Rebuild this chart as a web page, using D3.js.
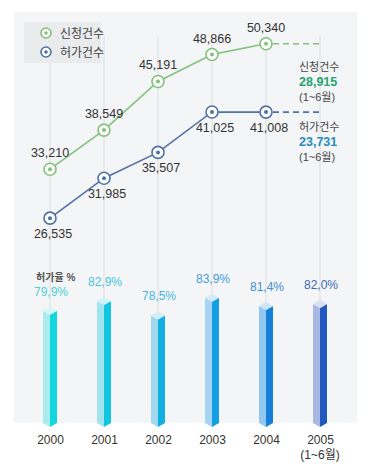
<!DOCTYPE html>
<html>
<head>
<meta charset="utf-8">
<script src="https://cdn.jsdelivr.net/npm/d3@7"></script>
<style>
    body { margin: 0; background: #fff; }
    svg text { font-family: "Liberation Sans", "Noto Sans CJK KR", sans-serif; }
</style>
</head>
<body>
<div id="chart"></div>
<script>
// data
const years = ["2000", "2001", "2002", "2003", "2004", "2005"];
const applications = [33210, 38549, 45191, 48866, 50340];
const permits = [26535, 31985, 35507, 41025, 41008];
const rates = [79.9, 82.9, 78.5, 83.9, 81.4, 82.0];
const partialApplications = 28915;
const partialPermits = 23731;
const seriesNames = ["신청건수", "허가건수"];
const partialNote = "(1~6월)";

const barColors = [
    {left: "#a9ecee", right: "#12d6dc", top: "#d4f6f7", label: "#4ccfd9"},
    {left: "#a0e4f0", right: "#12c6e0", top: "#d0f2f8", label: "#45c5e0"},
    {left: "#a2d8f0", right: "#12b0e0", top: "#d2ecf8", label: "#44b6e0"},
    {left: "#a6d4f4", right: "#12a0e2", top: "#d4eafa", label: "#3f9ed8"},
    {left: "#92c8f0", right: "#1680d8", top: "#cce4f8", label: "#3f8ed0"},
    {left: "#a8b8e2", right: "#2258bf", top: "#d6def2", label: "#3d68b8"}
];

class comboChart {
    constructor(parentElement) {
        this.parentElement = parentElement;
        this.width = 371;
        this.height = 469;
        this.green = "#82c27c";
        this.blue = "#4f72a5";
        this.initVis();
    }

    initVis() {
        let vis = this;

        vis.svg = d3.select("#" + vis.parentElement).append("svg")
            .attr("width", vis.width)
            .attr("height", vis.height);

        // background panel
        vis.svg.append("rect")
            .attr("x", 14).attr("y", 12)
            .attr("width", 343).attr("height", 411)
            .attr("fill", "#f4f5f6");

        vis.x = d3.scalePoint().domain(years).range([50, 320]);
        vis.y = d3.scaleLinear().domain([20000, 55000]).range([266, 9.6]);
        vis.yRate = d3.scaleLinear().domain([70, 90]).range([339, 274]);

        // vertical guide lines
        vis.svg.selectAll(".grid")
            .data(years)
            .enter().append("line")
            .attr("class", "grid")
            .attr("x1", d => vis.x(d)).attr("x2", d => vis.x(d))
            .attr("y1", 36).attr("y2", 420)
            .attr("stroke", "#dcdddf")
            .attr("stroke-width", 1);

        vis.drawBars();
        vis.drawLines();
        vis.drawLegend();
        vis.drawAxis();
    }

    drawBars() {
        let vis = this;
        let w = 7, d = 4, bottom = 427;
        let bars = vis.svg.selectAll(".bar")
            .data(rates)
            .enter().append("g")
            .attr("class", "bar");

        bars.append("polygon")
            .attr("fill", (r, i) => barColors[i].left)
            .attr("points", (r, i) => {
                let cx = vis.x(years[i]), t = vis.yRate(r);
                return [[cx - w, t + d], [cx, t + 2 * d], [cx, bottom], [cx - w, bottom - d]].join(" ");
            });
        bars.append("polygon")
            .attr("fill", (r, i) => barColors[i].right)
            .attr("points", (r, i) => {
                let cx = vis.x(years[i]), t = vis.yRate(r);
                return [[cx, t + 2 * d], [cx + w, t + d], [cx + w, bottom - d], [cx, bottom]].join(" ");
            });
        bars.append("polygon")
            .attr("fill", (r, i) => barColors[i].top)
            .attr("points", (r, i) => {
                let cx = vis.x(years[i]), t = vis.yRate(r);
                return [[cx - w, t + d], [cx, t], [cx + w, t + d], [cx, t + 2 * d]].join(" ");
            });

        // the source writes the decimal mark as a comma
        bars.append("text")
            .attr("x", (r, i) => vis.x(years[i]) + 1)
            .attr("y", r => vis.yRate(r) - 11)
            .attr("text-anchor", "middle")
            .attr("font-size", 12)
            .attr("fill", (r, i) => barColors[i].label)
            .text(r => r.toFixed(1).replace(".", ",") + "%");

        vis.svg.append("text")
            .attr("x", 36).attr("y", 281)
            .attr("font-size", 10)
            .attr("font-weight", "bold")
            .attr("fill", "#555")
            .text("허가율 %");
    }

    drawSeries(values, partial, color, above) {
        let vis = this;
        let pts = values.map((v, i) => ({year: years[i], value: v}));
        let last = pts[pts.length - 1];

        let line = d3.line().x(d => vis.x(d.year)).y(d => vis.y(d.value));
        vis.svg.append("path")
            .datum(pts)
            .attr("fill", "none")
            .attr("stroke", color)
            .attr("stroke-width", 1.6)
            .attr("d", line);

        // dashed extension to the partial year
        vis.svg.append("line")
            .attr("x1", vis.x(last.year) + 7).attr("x2", vis.x(years[5]))
            .attr("y1", vis.y(last.value)).attr("y2", vis.y(last.value))
            .attr("stroke", color)
            .attr("stroke-width", 1.6)
            .attr("stroke-dasharray", "6,4");

        let g = vis.svg.selectAll(null).data(pts).enter().append("g")
            .attr("transform", d => `translate(${vis.x(d.year)},${vis.y(d.value)})`);
        g.append("circle").attr("r", 6).attr("fill", "#fff").attr("stroke", color).attr("stroke-width", 1.6);
        g.append("circle").attr("r", 2).attr("fill", color);
        g.append("text")
            .attr("x", above ? 0 : 3)
            .attr("y", above ? -12 : 20)
            .attr("text-anchor", "middle")
            .attr("font-size", 12.5)
            .attr("fill", "#333")
            .text(d => d3.format(",")(d.value));
    }

    drawLines() {
        let vis = this;
        vis.drawSeries(applications, partialApplications, vis.green, true);
        vis.drawSeries(permits, partialPermits, vis.blue, false);

        // partial-year notes on the right
        let notes = [
            {name: seriesNames[0], value: partialApplications, color: "#25a36e", y: 67},
            {name: seriesNames[1], value: partialPermits, color: "#2a8bb8", y: 127}
        ];
        notes.forEach(n => {
            let t = vis.svg.append("text")
                .attr("x", 299)
                .attr("font-size", 11)
                .attr("fill", "#444");
            t.append("tspan").attr("x", 299).attr("y", n.y + 4).text(n.name);
            t.append("tspan").attr("x", 299).attr("y", n.y + 19)
                .attr("font-size", 12.5).attr("font-weight", "bold").attr("fill", n.color)
                .text(d3.format(",")(n.value));
            t.append("tspan").attr("x", 299).attr("y", n.y + 34).text(partialNote);
        });
    }

    drawLegend() {
        let vis = this;
        vis.svg.append("rect")
            .attr("x", 24).attr("y", 22)
            .attr("width", 77).attr("height", 41)
            .attr("fill", "#e9ebed");

        let items = [{name: seriesNames[0], color: vis.green}, {name: seriesNames[1], color: vis.blue}];
        let g = vis.svg.selectAll(".legend").data(items).enter().append("g")
            .attr("class", "legend")
            .attr("transform", (d, i) => `translate(46,${33 + i * 19})`);
        g.append("circle").attr("r", 5).attr("fill", "#fff").attr("stroke", d => d.color).attr("stroke-width", 1.6);
        g.append("circle").attr("r", 1.8).attr("fill", d => d.color);
        g.append("text")
            .attr("x", 14).attr("y", 4.5)
            .attr("font-size", 12)
            .attr("fill", "#444")
            .text(d => d.name);
    }

    drawAxis() {
        let vis = this;
        let axis = vis.svg.append("g")
            .attr("transform", "translate(0,431)")
            .call(d3.axisBottom(vis.x).tickSize(0).tickPadding(4));
        axis.select(".domain").remove();
        axis.selectAll("text")
            .attr("font-size", 12)
            .attr("fill", "#333")
            .style("font-family", "\"Liberation Sans\", \"Noto Sans CJK KR\", sans-serif");

        vis.svg.append("text")
            .attr("x", vis.x(years[5]))
            .attr("y", 459)
            .attr("text-anchor", "middle")
            .attr("font-size", 12)
            .attr("fill", "#333")
            .text(partialNote);
    }
}

new comboChart("chart");
</script>
</body>
</html>
